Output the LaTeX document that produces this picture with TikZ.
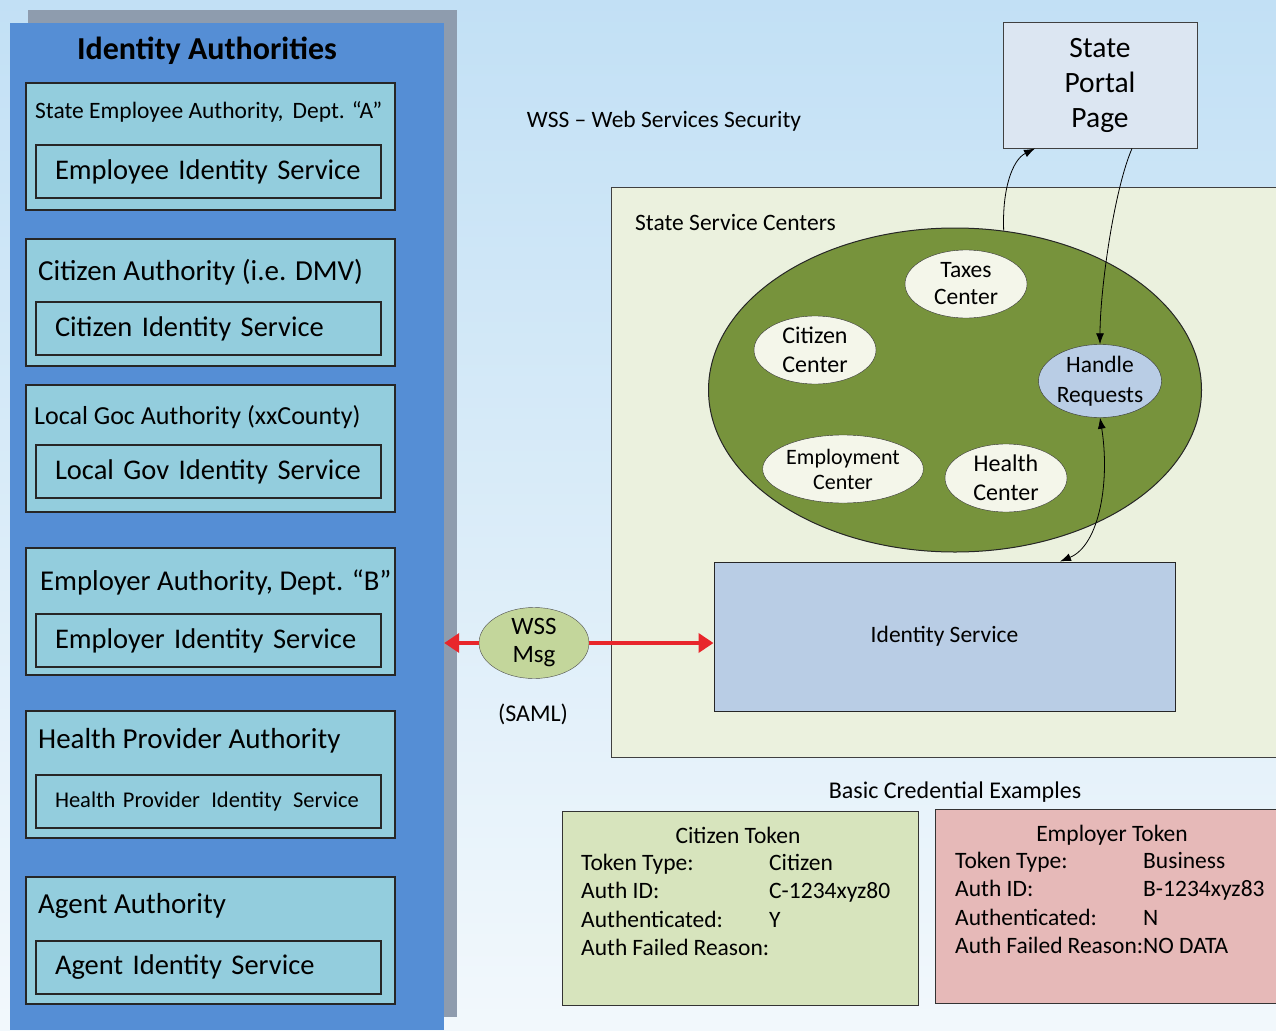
\documentclass[tikz,border=0pt]{standalone}
\usepackage{fontspec}
\setmainfont{Carlito}
\usetikzlibrary{arrows.meta,shapes.geometric}

\definecolor{skytop}{HTML}{C2E0F5}
\definecolor{skybottom}{HTML}{F2F8FC}
\definecolor{panelblue}{HTML}{558ED5}
\definecolor{panelshadow}{HTML}{8E9CAE}
\definecolor{authfill}{HTML}{93CDDD}
\definecolor{centerfill}{HTML}{EBF1DE}
\definecolor{hubgreen}{HTML}{77933C}
\definecolor{creamfill}{HTML}{F4F6EA}
\definecolor{idfill}{HTML}{B9CDE5}
\definecolor{portalfill}{HTML}{DCE6F2}
\definecolor{msgfill}{HTML}{C3D69B}
\definecolor{citfill}{HTML}{D7E4BD}
\definecolor{empfill}{HTML}{E6B9B8}
\definecolor{wssred}{HTML}{E8262B}

\newcommand{\fsz}[2]{\fontsize{#1}{#2}\selectfont}

\begin{document}
\begin{tikzpicture}[x=1pt, y=-1pt,
		authbox/.style={draw=black!85, line width=1.5pt, fill=authfill, minimum width=369pt, minimum height=127pt, inner sep=0},
		authlabel/.style={anchor=west, inner sep=0},
		servicebox/.style={draw=black!85, line width=1.5pt, fill=authfill, text width=307pt, inner xsep=19pt, inner ysep=0, minimum height=53pt, align=left},
		centernode/.style={ellipse, draw=black!80, fill=creamfill, inner sep=0, minimum width=122pt, minimum height=68pt, align=center},
		redarrow/.style={wssred, line width=4pt, -{Triangle[length=15pt,width=19pt]}},
		link/.style={black, line width=0.8pt},
		tokenbox/.style={draw=black!80, line width=1pt, minimum width=356pt, minimum height=194pt, inner sep=0}]
		
		\useasboundingbox (0,0) rectangle (1276,1030);
		\shade [top color=skytop, bottom color=skybottom] (0,0) rectangle (1276,1030);
		
		% identity authorities panel
		\fill [panelshadow] (28,10) rectangle (457,1017);
		\node [fill=panelblue, minimum width=434pt, minimum height=1007pt, inner sep=0] (panel) at (227,526.5) {};
		\node [font=\bfseries\fsz{32}{36}] (title) at (207,51) {Identity Authorities};
		
		\node [authbox] (stateauth) at (210.5,146.5) {};
		\node [authlabel, font=\fsz{23.5}{28}] at (35,112) {State Employee Authority,\, Dept. “A”};
		\node [servicebox, font=\fsz{28.5}{32}] (stateid) at (208.5,171.5) {Employee Identity Service};
		
		\node [authbox] (citauth) at (210.5,302.5) {};
		\node [authlabel, font=\fsz{29}{34}] at (38,272) {Citizen Authority (i.e. DMV)};
		\node [servicebox, font=\fsz{28.5}{32}] (citid) at (208.5,328.5) {Citizen Identity Service};
		
		\node [authbox] (localauth) at (210.5,448.5) {};
		\node [authlabel, font=\fsz{26}{30}] at (34,417) {Local Goc Authority (xxCounty)};
		\node [servicebox, font=\fsz{28.5}{32}] (localid) at (208.5,471.5) {Local Gov Identity Service};
		
		\node [authbox] (empauth) at (210.5,611.5) {};
		\node [authlabel, font=\fsz{28.7}{34}] at (40,582) {Employer Authority, Dept. “B”};
		\node [servicebox, font=\fsz{28.5}{32}] (empid) at (208.5,640.5) {Employer Identity Service};
		
		\node [authbox] (healthauth) at (210.5,774.5) {};
		\node [authlabel, font=\fsz{29}{34}] at (38,741) {Health Provider Authority};
		\node [servicebox, font=\fsz{22.5}{27}] (healthid) at (208.5,801.5) {Health Provider\, Identity\, Service};
		
		\node [authbox] (agentauth) at (210.5,940.5) {};
		\node [authlabel, font=\fsz{29}{34}] at (38,906) {Agent Authority};
		\node [servicebox, font=\fsz{28.5}{32}] (agentid) at (208.5,967.5) {Agent Identity Service};
		
		% state side
		\node [font=\fsz{23.5}{28}] (wsslabel) at (664,121) {WSS -- Web Services Security};
		
		\filldraw [draw=black!75, line width=1pt, fill=centerfill] (611,187) rectangle (1290,757);
		\node [anchor=west, inner sep=0, font=\fsz{23.5}{28}] (centerstitle) at (635,223) {State Service Centers};
		
		\node [ellipse, draw=black!85, line width=1pt, fill=hubgreen, minimum width=493pt, minimum height=324pt] (hub) at (955,390) {};
		\node [centernode, font=\fsz{23.5}{27}] (taxes) at (966,284) {Taxes\\Center};
		\node [centernode, font=\fsz{24}{29}] (citizen) at (815,350) {Citizen\\Center};
		\node [centernode, font=\fsz{22}{25}] (employment) at (843,469) {Employment\\Center};
		\node [centernode, font=\fsz{24}{29}] (health) at (1006,478) {Health\\Center};
		\node [centernode, fill=idfill, minimum width=123pt, minimum height=73pt, font=\fsz{23.5}{30}] (handle) at (1100,381) {Handle\\Requests};
		
		\node [draw=black!85, line width=1pt, fill=idfill, minimum width=461pt, minimum height=149pt, font=\fsz{23.5}{28}] (idsvc) at (944.5,636.5) {Identity Service};
		
		\node [draw=black!75, line width=1pt, fill=portalfill, minimum width=194pt, minimum height=125pt, align=center, font=\fsz{29.5}{35}] (portal) at (1100,85.5) {State\\Portal\\Page};
		
		\draw [link, -{Latex[length=11pt,width=8pt]}] (hub.73) .. controls (1002,190) and (1012,160) .. ([xshift=-65pt]portal.south);
		\draw [link, -{Latex[length=11pt,width=8pt]}] ([xshift=32pt]portal.south) .. controls (1114,190) and (1100,290) .. (handle.north);
		\draw [link, {Latex[length=11pt,width=8pt]}-{Latex[length=11pt,width=8pt]}] (handle.south) .. controls (1110,480) and (1100,545) .. ([xshift=115.5pt]idsvc.north);
		
		% message between the two sides
		\node [ellipse, draw=black!70, fill=msgfill, minimum width=110pt, minimum height=71pt, inner sep=0, align=center, font=\fsz{25}{28}] (msg) at (534,643) {WSS\\Msg};
		\node [font=\fsz{24}{28}] (saml) at (533,714) {(SAML)};
		\draw [redarrow] (msg.west) -- (panel.east |- msg.west);
		\draw [redarrow] (msg.east) -- (idsvc.west |- msg.east);
		
		% credential examples
		\node [font=\fsz{24}{28}] (credtitle) at (955,792) {Basic Credential Examples};
		
		\node [tokenbox, fill=citfill] (cittok) at (740,908) {};
		\node [font=\fsz{23.5}{28}] at (738,835) {Citizen Token};
		\node [anchor=north west, inner sep=0, align=left, font=\fsz{23.5}{28.5}] (citrows) at (581,850) {%
			\begin{tabular}{@{}p{188pt}@{}l@{}}
				Token Type: & Citizen\\
				Auth ID: & C-1234xyz80\\
				Authenticated: & Y\\
				Auth Failed Reason: &
			\end{tabular}};
		
		\node [tokenbox, fill=empfill] (emptok) at (1113,906) {};
		\node [font=\fsz{23.5}{28}] at (1112,835) {Employer Token};
		\node [anchor=north west, inner sep=0, align=left, font=\fsz{23.5}{28.5}] (emprows) at (955,848) {%
			\begin{tabular}{@{}p{188pt}@{}l@{}}
				Token Type: & Business\\
				Auth ID: & B-1234xyz83\\
				Authenticated: & N\\
				Auth Failed Reason:\rlap{NO DATA} &
			\end{tabular}};
		
\end{tikzpicture}
\end{document}
